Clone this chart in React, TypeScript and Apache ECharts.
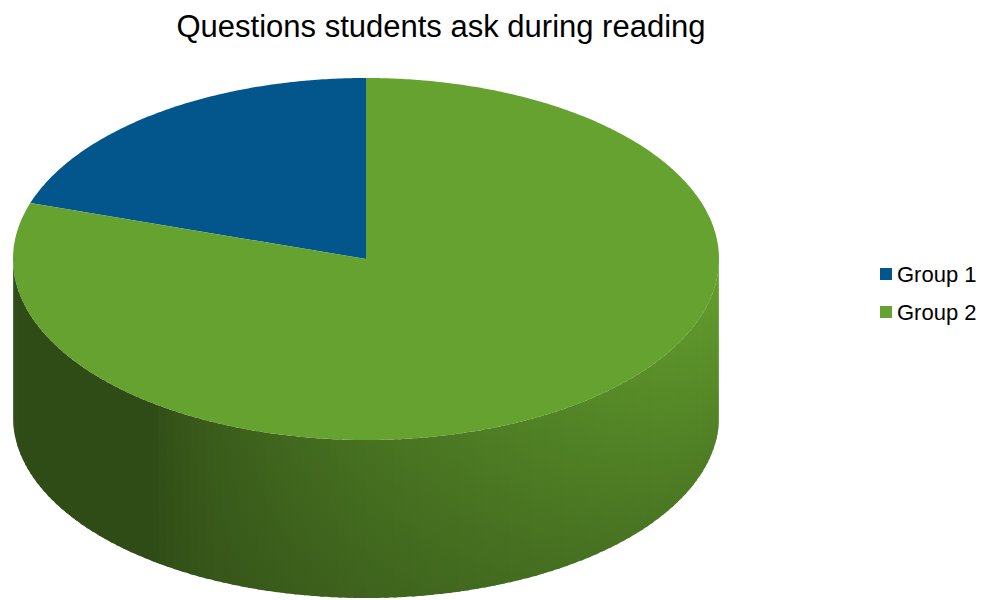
import React, { useEffect, useRef } from "react";
import * as echarts from "echarts";

const chartTitle = "Questions students ask during reading";
const categories = ["Group 1", "Group 2"];
const values = [20, 80];
const topColors = ["#02568c", "#66a22f"];

export default function App() {
  const ref = useRef<HTMLDivElement>(null);
  useEffect(() => {
    document.body.style.margin = "0";
    const chart = echarts.init(ref.current!, null, { renderer: "svg" });
    const total = values.reduce((a, b) => a + b, 0);
    const CX = 366, CY = 259, RX = 353, RY = 181, DEPTH = 158;
    const pt = (deg: number, dy = 0) => {
      const r = (deg * Math.PI) / 180;
      return [CX + RX * Math.cos(r), CY - RY * Math.sin(r) + dy];
    };
    const dark = [47, 75, 22];
    const light = [100, 160, 46];
    const mix = (t: number) => {
      const c = dark.map((d, k) => Math.round(d + (light[k] - d) * t));
      return `rgb(${c[0]},${c[1]},${c[2]})`;
    };
    const bright = (deg: number) => {
      let d = ((deg % 360) + 360) % 360;
      if (d < 90) d += 360;
      if (d <= 233) return 0;
      return Math.pow(Math.min(1, (d - 233) / 127), 0.65);
    };

    const renderItem = (i: number) => (params: any, api: any) => {
      const before = values.slice(0, i).reduce((a, b) => a + b, 0);
      const start = 90 + (360 * before) / total;
      const end = start + (360 * api.value(0)) / total;
      const children: any[] = [];
      for (const k of [0, 360]) {
        const lo = Math.max(start, 180 + k);
        const hi = Math.min(end, 360 + k);
        if (hi <= lo) continue;
        const step = 1.5;
        for (let a = lo; a < hi; a += step) {
          const a2 = Math.min(hi, a + step + 0.6);
          const pts: number[][] = [];
          for (let s = a; s <= a2 + 1e-6; s += 0.5) pts.push(pt(Math.min(s, a2)));
          pts.push(pt(a2));
          pts.push(pt(a2, DEPTH));
          for (let s = a2; s >= a - 1e-6; s -= 0.5) pts.push(pt(Math.max(s, a), DEPTH));
          pts.push(pt(a, DEPTH));
          const b = bright(a + step / 2);
          children.push({
            type: "polygon",
            shape: { points: pts },
            style: {
              fill: new echarts.graphic.LinearGradient(0, 0, 0, 1, [
                { offset: 0, color: mix(b) },
                { offset: 1, color: mix(b * 0.62) },
              ]),
            },
          });
        }
      }
      const top: number[][] = [[CX, CY]];
      for (let a = start; a < end; a += 0.5) top.push(pt(a));
      top.push(pt(end));
      children.push({
        type: "polygon",
        shape: { points: top },
        style: { fill: topColors[i] },
        z2: 10,
      });
      return { type: "group", children };
    };

    chart.setOption({
      animation: false,
      title: {
        text: chartTitle,
        left: 436,
        top: 6,
        textAlign: "center",
        textStyle: {
          fontSize: 31,
          fontWeight: "normal",
          fontFamily: "Liberation Sans",
          color: "#000",
        },
      },
      legend: {
        orient: "vertical",
        left: 875,
        top: 258,
        itemWidth: 12,
        itemHeight: 12,
        itemGap: 16,
        icon: "rect",
        data: categories,
        textStyle: {
          fontSize: 22,
          fontFamily: "Liberation Sans",
          color: "#000",
          padding: [0, 0, 0, 0],
        },
      },
      series: categories.map((name, i) => ({
        type: "custom",
        name,
        coordinateSystem: "none",
        silent: true,
        itemStyle: { color: topColors[i] },
        renderItem: renderItem(i),
        data: [values[i]],
      })),
    });
    return () => chart.dispose();
  }, []);
  return <div ref={ref} style={{ width: 993, height: 600 }} />;
}
